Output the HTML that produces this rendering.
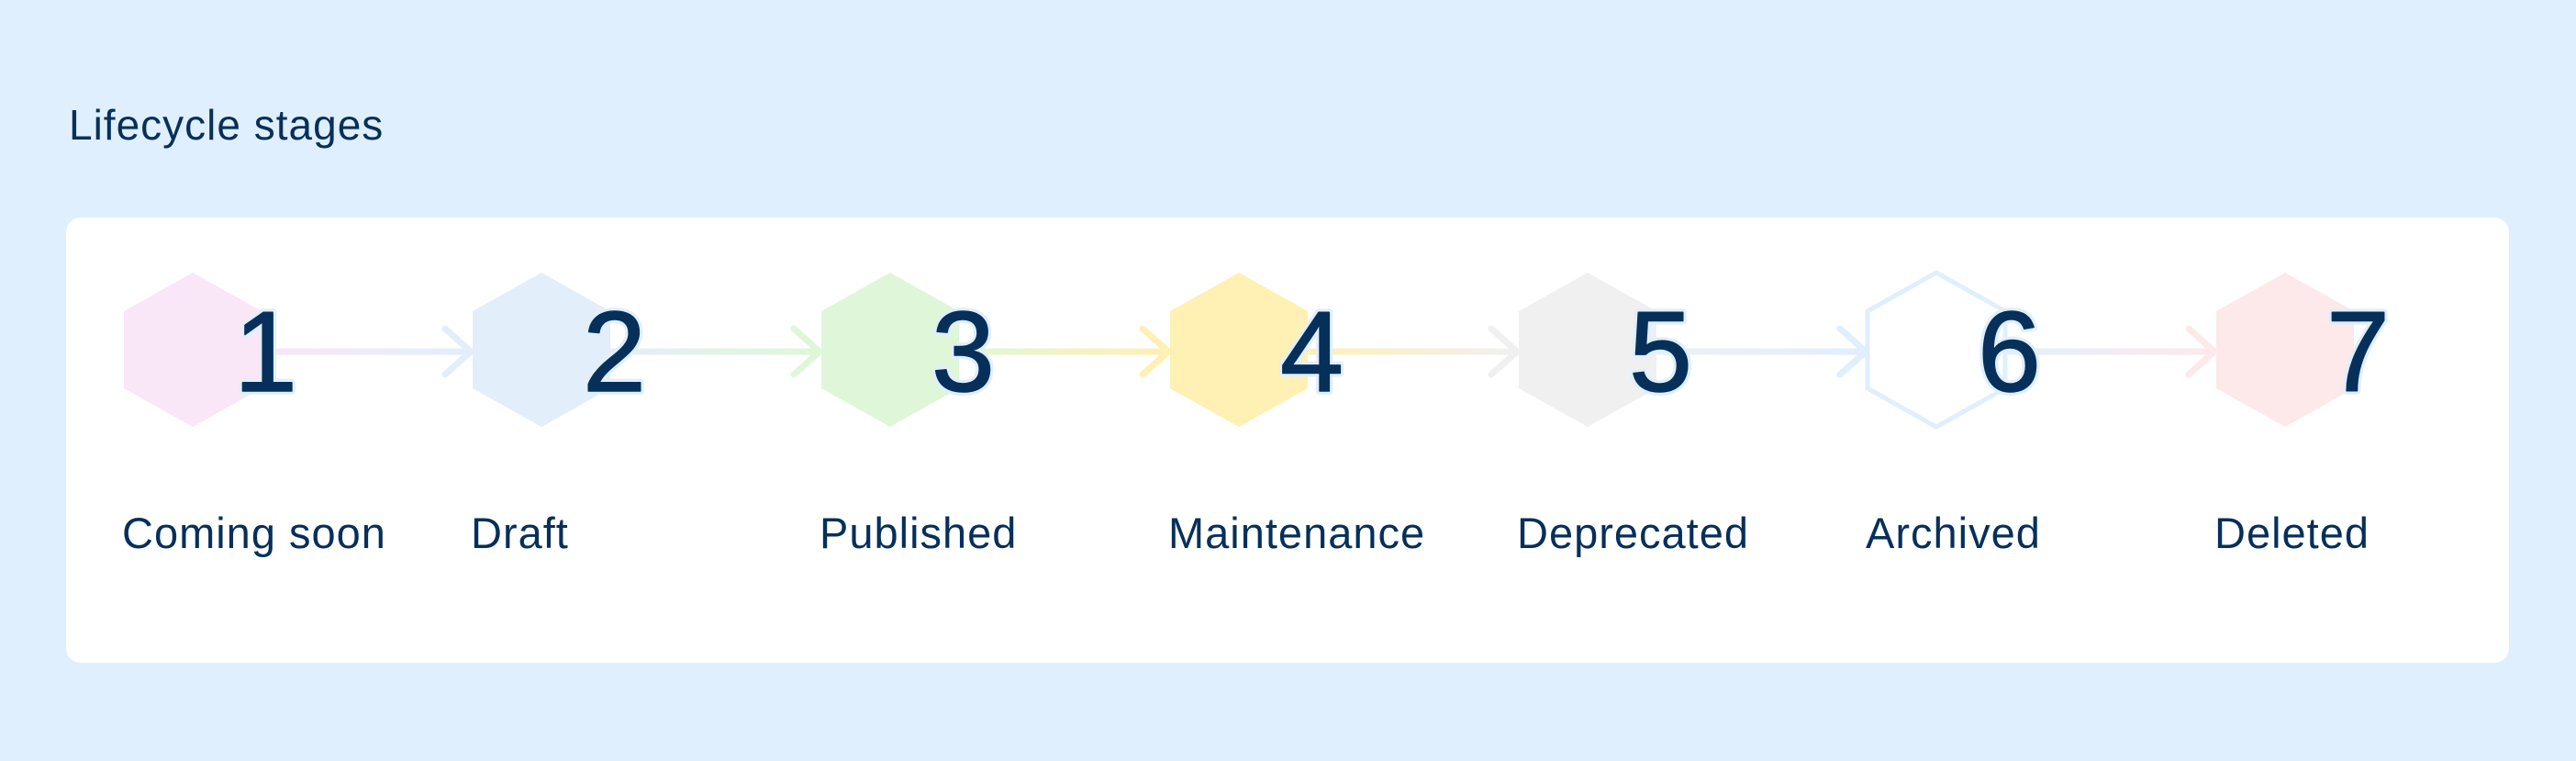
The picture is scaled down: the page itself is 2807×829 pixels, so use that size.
<!DOCTYPE html>
<html><head><meta charset="utf-8">
<style>
html,body{margin:0;padding:0;background:#e0effd;}
body{width:2807px;height:829px;overflow:hidden;position:relative;font-family:"Liberation Sans",sans-serif;}
svg{position:absolute;left:0;top:0;}
</style></head>
<body>
<svg id="chart" width="2807" height="829">
  <text x="75" y="152" font-size="46" fill="#06305a" letter-spacing="1">Lifecycle stages</text>
  <rect x="72" y="237" width="2662" height="485" rx="16" fill="#ffffff"/>
  <g id="arrows"></g>
  <g id="stages"></g>
</svg>
<script>
const stageLabels = ["Coming soon","Draft","Published","Maintenance","Deprecated","Archived","Deleted"];
const stageNumbers = ["1","2","3","4","5","6","7"];
const stageFills = ["#f9e6f6","#e3eefb","#dff7d8","#fff0b3","#f0f0f0","#ffffff","#fde9ea"];
const stageStrokes = ["none","none","none","none","none","#e0effd","none"];

const NS = "http://www.w3.org/2000/svg";
const x0 = 210, step = 380, cy = 381, halfW = 75, halfH = 84, sideH = 42;
function cx(i){ return x0 + i*step; }
const arrowsG = document.getElementById('arrows');
const stagesG = document.getElementById('stages');
const defs = document.createElementNS(NS,'defs');
document.getElementById('chart').appendChild(defs);

stageLabels.forEach((lab,i)=>{
  const c = cx(i);
  const g = document.createElementNS(NS,'g');
  
  
  const hex = document.createElementNS(NS,'polygon');
  
  
  const pts = [[c,cy-halfH],[c+halfW,cy-sideH],[c+halfW,cy+sideH],[c,cy+halfH],[c-halfW,cy+sideH],[c-halfW,cy-sideH]];
  hex.setAttribute('points', pts.map(p=>p.join(',')).join(' '));
  hex.setAttribute('fill', stageFills[i]);
  if (stageStrokes[i] !== 'none'){ hex.setAttribute('stroke', stageStrokes[i]); hex.setAttribute('stroke-width','5'); }
  g.appendChild(hex);
  stagesG.appendChild(g);

  if (i < stageLabels.length-1){
    const gid = 'grad'+i;
    const lg = document.createElementNS(NS,'linearGradient');
    lg.setAttribute('id',gid);
    const s1 = document.createElementNS(NS,'stop'); s1.setAttribute('offset','0'); s1.setAttribute('stop-color', stageFills[i]==='#ffffff' ? '#e0effd' : stageFills[i]);
    const s2 = document.createElementNS(NS,'stop'); s2.setAttribute('offset','1'); s2.setAttribute('stop-color', stageFills[i+1]==='#ffffff' ? '#e0effd' : stageFills[i+1]);
    lg.appendChild(s1); lg.appendChild(s2); defs.appendChild(lg);
    const tip = cx(i+1) - halfW - 2;
    const ln = document.createElementNS(NS,'line');
    
    
    ln.setAttribute('x1', c+60); ln.setAttribute('x2', tip-2);
    ln.setAttribute('y1', cy+2); ln.setAttribute('y2', cy+2.01);
    ln.setAttribute('stroke', 'url(#'+gid+')'); ln.setAttribute('stroke-width','7');
    arrowsG.appendChild(ln);
    const hd = document.createElementNS(NS,'polyline');
    
    
    hd.setAttribute('points', (tip-28)+','+(cy-23)+' '+tip+','+(cy+2)+' '+(tip-28)+','+(cy+27));
    hd.setAttribute('fill','none');
    hd.setAttribute('stroke', stageFills[i+1]==='#ffffff' ? '#e0effd' : stageFills[i+1]);
    hd.setAttribute('stroke-width','7'); hd.setAttribute('stroke-linecap','round'); hd.setAttribute('stroke-linejoin','round');
    arrowsG.appendChild(hd);
  }
});
stageLabels.forEach((lab,i)=>{
  const c = cx(i);
  const outline = document.createElementNS(NS,'text');
  
  
  outline.setAttribute('x', c+45); outline.setAttribute('y', 426);
  outline.setAttribute('font-size','124'); outline.setAttribute('fill','#06305a');
  outline.setAttribute('stroke','#e0effd'); outline.setAttribute('stroke-width','8'); outline.setAttribute('stroke-linejoin','round');
  outline.textContent = stageNumbers[i];
  stagesG.appendChild(outline);
  const num = document.createElementNS(NS,'text');
  
  
  num.setAttribute('x', c+45); num.setAttribute('y', 426);
  num.setAttribute('font-size','124'); num.setAttribute('fill','#06305a');
  num.setAttribute('stroke','#06305a'); num.setAttribute('stroke-width','1.5'); num.setAttribute('stroke-linejoin','round');
  num.textContent = stageNumbers[i];
  stagesG.appendChild(num);
  const t = document.createElementNS(NS,'text');
  
  
  t.setAttribute('x', c-halfW-2); t.setAttribute('y', 597);
  t.setAttribute('font-size','47'); t.setAttribute('fill','#06305a'); t.setAttribute('letter-spacing','1');
  t.textContent = lab;
  stagesG.appendChild(t);
});
</script>
</body></html>
